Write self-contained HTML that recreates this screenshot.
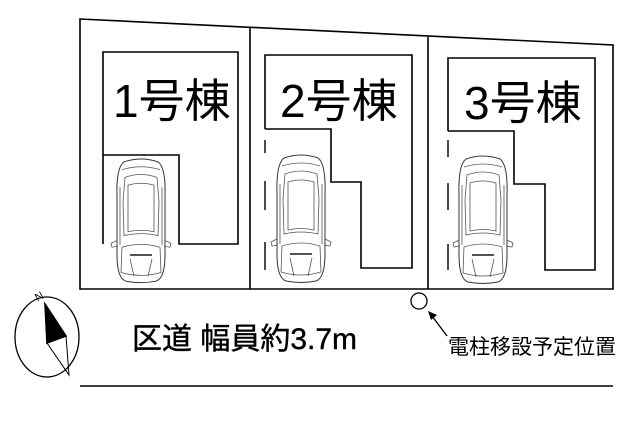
<!DOCTYPE html>
<html><head><meta charset="utf-8"><style>
html,body{margin:0;padding:0;background:#fff;}
svg{display:block}
text{font-family:"Liberation Sans","Noto Sans CJK JP",sans-serif;fill:#000}
</style></head><body>
<svg width="640" height="442" viewBox="0 0 640 442" xmlns="http://www.w3.org/2000/svg">
<defs>
<g id="car" fill="none" stroke="#555" stroke-width="0.8">
  <path d="M8,4 Q25,-2 42,4 Q50,10 49,40 L49,100 Q49,124 40,127 Q25,130 10,127 Q1,124 1,100 L1,40 Q0,10 8,4Z" stroke="#333" stroke-width="1"/>
  <path d="M6,12 Q25,6 44,12"/>
  <path d="M9,20 Q25,14 41,20 L43,45 L42,80 Q25,76 8,80 L7,45Z"/>
  <path d="M12,28 Q25,24 38,28 L38,76 Q25,73 12,76Z"/>
  <path d="M4,30 L4,90 M46,30 L46,90"/>
  <path d="M1,85 L-5,88 L-4,92 L2,91 M49,85 L55,88 L54,92 L48,91"/>
  <path d="M6,92 Q25,86 44,92 L45,118 Q25,124 5,118Z"/>
  <path d="M14,100 L36,100" stroke-width="2"/>
  <path d="M14,104 L18,122 M36,104 L32,122"/>
</g>
</defs>
<g fill="none" stroke="#000" stroke-width="1.6">
  <path d="M80,19 L613,45 L613,289 L80,289 Z"/>
  <path d="M250,28 L250,289 M428,37 L428,289"/>
  <path d="M103,244 L103,52 L238,52 L238,244 L179,244 L179,155 L103,155"/>
  <path d="M265,129 L265,55 L412,55 L412,268 L361,268 L361,182 L331,182 L331,129 L265,129"/>
  <path d="M265,140 V153 M265,181 V210 M265,242 V270" stroke-width="1.4"/>
  <path d="M448,131 L448,58 L595,58 L595,270 L545,270 L545,184 L514,184 L514,131 L448,131"/>
  <path d="M448,140 V157 M448,183 V210 M448,244 V270" stroke-width="1.4"/>
  <line x1="80" y1="386" x2="613" y2="386"/>
  <circle cx="419" cy="301" r="8" stroke-width="1.3"/>
  <ellipse cx="47" cy="337" rx="32" ry="40" stroke-width="1.3"/>
  <path d="M45,304 L66,336 L47,343 Z" fill="#000"/>
  <path d="M47,343 L66,336 L69,375 Z" stroke-width="1"/>
  <line x1="447" y1="336" x2="432" y2="316" stroke-width="1.3"/>
</g>
<path d="M428,311 L437,315 L431,320 Z" fill="#000"/>
<use href="#car" transform="translate(116,158) scale(1.0,0.97)"/>
<use href="#car" transform="translate(276,154)"/>
<use href="#car" transform="translate(458,155)"/>
<text x="113" y="117" font-size="46">1号棟</text>
<text x="280" y="117" font-size="46">2号棟</text>
<text x="464" y="119" font-size="46">3号棟</text>
<text x="132" y="349" font-size="30" stroke="#000" stroke-width="0.4">区道 幅員約3.7m</text>
<text x="448" y="354" font-size="21">電柱移設予定位置</text>
<text x="35" y="300" font-size="11" transform="rotate(-30 39 296)">N</text>
</svg>
</body></html>
